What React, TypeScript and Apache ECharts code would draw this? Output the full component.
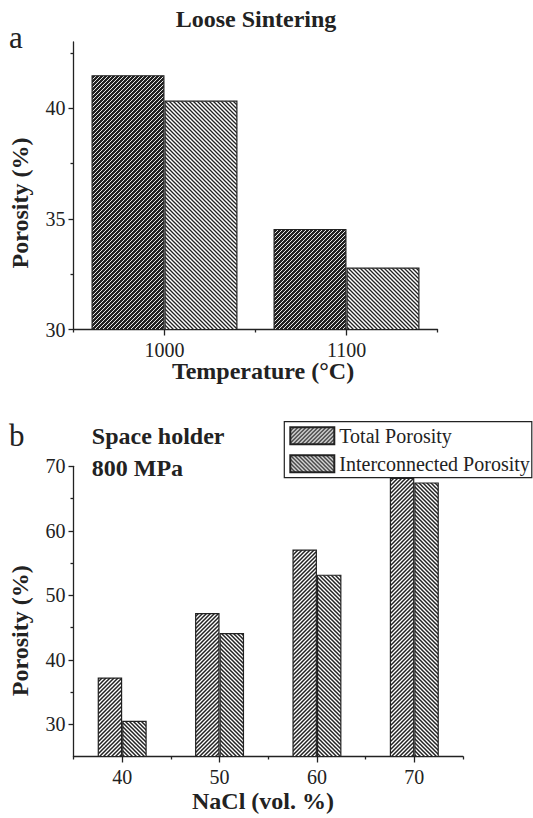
import React, { useEffect, useRef } from "react";
import * as echarts from "echarts";

const looseCategories = ["1000", "1100"];
const looseTotal = [41.5, 34.55];
const looseInter = [40.35, 32.8];
const looseTicks = [30, 35, 40];
const looseMinorTicks = [32.5, 37.5, 42.5];

const naclCategories = ["40", "50", "60", "70"];
const naclTotal = [37.25, 47.25, 57.1, 68.2];
const naclInter = [30.55, 44.15, 53.2, 67.5];
const naclTicks = [30, 40, 50, 60, 70];
const naclMinorTicks = [35, 45, 55, 65];

const seriesNames = ["Total Porosity", "Interconnected Porosity"];

const FONT = "Liberation Serif";
const INK = "#222";

function makePattern(dir: "/" | "\\", bg: string, fg: string, w: number, p = 4) {
  const c = document.createElement("canvas");
  c.width = p;
  c.height = p;
  const ctx = c.getContext("2d")!;
  ctx.fillStyle = bg;
  ctx.fillRect(0, 0, p, p);
  ctx.strokeStyle = fg;
  ctx.lineWidth = w;
  ctx.beginPath();
  if (dir === "/") {
    for (const o of [-p, 0, p]) {
      ctx.moveTo(o - 1, p + 1);
      ctx.lineTo(o + p + 1, -1);
    }
  } else {
    for (const o of [-p, 0, p]) {
      ctx.moveTo(o - 1, -1);
      ctx.lineTo(o + p + 1, p + 1);
    }
  }
  ctx.stroke();
  return { image: c, repeat: "repeat", imageWidth: p, imageHeight: p } as any;
}

export default function App() {
  const ref = useRef<HTMLDivElement>(null);
  useEffect(() => {
    document.body.style.margin = "0";
    const chart = echarts.init(ref.current!, null, { renderer: "svg" });

    const topTotalFill = makePattern("/", INK, "#ffffff", 0.9);
    const topInterFill = makePattern("\\", "#ffffff", INK, 1.3);
    const botTotalFill = makePattern("/", "#ffffff", INK, 1.5);
    const botInterFill = makePattern("\\", "#ffffff", INK, 1.5);

    const labelStyle = { fontFamily: FONT, fontSize: 20, color: INK };
    const lineStyle = { color: INK, width: 1.3 };

    const majorY = (gridIndex: number, min: number, max: number, ticks: number[]) => ({
      type: "value",
      gridIndex,
      position: "left",
      min,
      max,
      splitLine: { show: false },
      axisLine: { show: true, lineStyle },
      axisTick: { show: true, length: 5, inside: false, customValues: ticks, lineStyle },
      axisLabel: { ...labelStyle, margin: 8, customValues: ticks },
    });
    const minorY = (gridIndex: number, min: number, max: number, ticks: number[]) => ({
      type: "value",
      gridIndex,
      position: "left",
      offset: 0,
      min,
      max,
      splitLine: { show: false },
      axisLine: { show: false },
      axisTick: { show: true, length: 3, inside: false, customValues: ticks, lineStyle },
      axisLabel: { show: false },
    });
    const majorX = (gridIndex: number, data: string[]) => ({
      type: "category",
      gridIndex,
      position: "bottom",
      data,
      axisLine: { show: true, lineStyle },
      axisTick: { show: true, alignWithLabel: true, length: 6, lineStyle },
      axisLabel: { ...labelStyle, margin: 10 },
      splitLine: { show: false },
    });
    const minorX = (gridIndex: number, data: string[]) => ({
      type: "category",
      gridIndex,
      position: "bottom",
      offset: 0,
      data,
      axisLine: { show: false },
      axisTick: { show: true, alignWithLabel: false, length: 3, lineStyle },
      axisLabel: { show: false },
      splitLine: { show: false },
    });

    const barBorder = { borderColor: INK, borderWidth: 1.2 };

    const titleText = (text: string, x: number, y: number, extra: any = {}) => ({
      type: "text",
      x,
      y,
      silent: true,
      rotation: extra.rotation || 0,
      style: {
        text,
        fontFamily: FONT,
        fontSize: 24,
        fontWeight: "bold",
        fill: INK,
        textAlign: "center",
        textVerticalAlign: "middle",
        ...(extra.style || {}),
      },
    });

    chart.setOption({
      animation: false,
      backgroundColor: "#ffffff",
      textStyle: { fontFamily: FONT },
      grid: [
        { left: 73.5, top: 42, width: 364, height: 287.5, containLabel: false },
        { left: 73.5, top: 466.3, width: 389.5, height: 290.2, containLabel: false },
      ],
      xAxis: [
        majorX(0, looseCategories),
        minorX(0, looseCategories),
        majorX(1, naclCategories),
        minorX(1, naclCategories),
      ],
      yAxis: [
        majorY(0, 30, 43, looseTicks),
        minorY(0, 30, 43, looseMinorTicks),
        majorY(1, 25, 70, naclTicks),
        minorY(1, 25, 70, naclMinorTicks),
      ],
      legend: {
        show: true,
        orient: "vertical",
        left: 284.3,
        top: 421.7,
        padding: [4, 2, 4, 5],
        itemGap: 8,
        itemWidth: 44,
        itemHeight: 17,
        icon: "rect",
        borderColor: INK,
        borderWidth: 1.2,
        data: seriesNames,
        textStyle: { fontFamily: FONT, fontSize: 20, color: INK, lineHeight: 17 },
        selectedMode: false,
      },
      series: [
        {
          name: seriesNames[0],
          type: "bar",
          xAxisIndex: 2,
          yAxisIndex: 2,
          data: naclTotal,
          barWidth: 24.5,
          barGap: "0%",
          itemStyle: { color: botTotalFill, ...barBorder },
        },
        {
          name: seriesNames[1],
          type: "bar",
          xAxisIndex: 2,
          yAxisIndex: 2,
          data: naclInter,
          barWidth: 24.5,
          barGap: "0%",
          itemStyle: { color: botInterFill, ...barBorder },
        },
        {
          name: seriesNames[0],
          type: "bar",
          xAxisIndex: 0,
          yAxisIndex: 0,
          data: looseTotal,
          barWidth: 73,
          barGap: "0%",
          itemStyle: { color: topTotalFill, ...barBorder },
        },
        {
          name: seriesNames[1],
          type: "bar",
          xAxisIndex: 0,
          yAxisIndex: 0,
          data: looseInter,
          barWidth: 73,
          barGap: "0%",
          itemStyle: { color: topInterFill, ...barBorder },
        },
      ],
      graphic: [
        titleText("Loose Sintering", 256, 18.6),
        titleText("Temperature (°C)", 263, 371),
        titleText("Porosity (%)", 19.8, 203, { rotation: Math.PI / 2 }),
        titleText("Porosity (%)", 19.8, 630.7, { rotation: Math.PI / 2 }),
        titleText("NaCl (vol. %)", 263, 801),
        titleText("Space holder", 91.8, 436, { style: { textAlign: "left" } }),
        titleText("800 MPa", 91.8, 468, { style: { textAlign: "left" } }),
        {
          type: "text",
          x: 9,
          y: 37.8,
          silent: true,
          style: { text: "a", fontFamily: FONT, fontSize: 31, fill: INK, textAlign: "left", textVerticalAlign: "middle" },
        },
        {
          type: "text",
          x: 9,
          y: 435.5,
          silent: true,
          style: { text: "b", fontFamily: FONT, fontSize: 31, fill: INK, textAlign: "left", textVerticalAlign: "middle" },
        },
      ],
    });
    return () => chart.dispose();
  }, []);
  return <div ref={ref} style={{ width: 533, height: 818 }} />;
}
